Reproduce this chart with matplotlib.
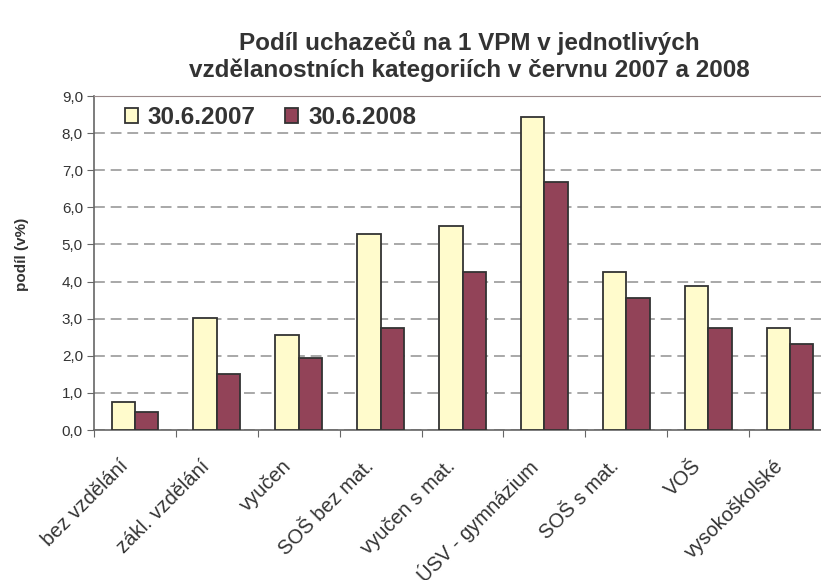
import numpy as np
import matplotlib
matplotlib.use("Agg")
import matplotlib.pyplot as plt
import matplotlib.transforms as mtransforms

plt.rcParams['font.family'] = ['Liberation Sans', 'DejaVu Sans']

# data
categories = ['bez vzdělání', 'zákl. vzdělání', 'vyučen', 'SOŠ bez mat.', 'vyučen s mat.',
              'ÚSV - gymnázium', 'SOŠ s mat.', 'VOŠ', 'vysokoškolské']
podil_2007 = [0.76, 3.03, 2.55, 5.29, 5.51, 8.43, 4.27, 3.89, 2.76]
podil_2008 = [0.49, 1.51, 1.95, 2.76, 4.27, 6.69, 3.57, 2.76, 2.33]
series_names = ['30.6.2007', '30.6.2008']
yticks = [0, 1, 2, 3, 4, 5, 6, 7, 8, 9]

txt = '#333333'
fig = plt.figure(figsize=(8.21, 5.8), dpi=100)
ax = fig.add_axes([94 / 821, 150 / 580, 737 / 821, 334 / 580])

x = np.arange(len(categories))
w = 0.285
ax.bar(x - w / 2, podil_2007, w, color='#FFFBCC', edgecolor='#333333', linewidth=1.3,
       label=series_names[0], zorder=3)
ax.bar(x + w / 2, podil_2008, w, color='#924358', edgecolor='#333333', linewidth=1.3,
       label=series_names[1], zorder=3)

ax.set_xlim(-0.5, len(categories) - 0.5)
ax.set_ylim(0, 9)
ax.set_yticks(yticks)
ax.set_yticklabels(['%d,0' % v for v in yticks], fontsize=11, color=txt)
ax.yaxis.grid(True, linestyle=(0, (6.5, 3.5)), color='#999999', linewidth=1.2, zorder=0)

ax.set_xticks(np.arange(len(categories) + 1) - 0.5, minor=False)
ax.set_xticklabels([])
ax.set_xticks(x, minor=True)
ax.set_xticklabels(categories, minor=True, rotation=45, ha='right', va='center',
                   rotation_mode='anchor', fontsize=14.5, color=txt)
ax.tick_params(axis='x', which='minor', length=0, pad=24)
ax.tick_params(axis='x', which='major', length=5, direction='out', color='#666666')
ax.tick_params(axis='y', length=5, direction='out', color='#666666', pad=3)
shift = mtransforms.ScaledTranslation(-10 / 100, 0, fig.dpi_scale_trans)
for lab in ax.get_xticklabels(minor=True):
    lab.set_transform(lab.get_transform() + shift)

for s in ['left', 'bottom']:
    ax.spines[s].set_color('#666666')
    ax.spines[s].set_linewidth(1.2)
ax.spines['top'].set_color('#9a8a8a')
ax.spines['right'].set_visible(False)

ax.set_ylabel('podíl (v%)', fontsize=11, fontweight='bold', color=txt)
ax.yaxis.set_label_coords(-0.088, 0.525)

leg = ax.legend(loc='upper left', bbox_to_anchor=(0.012, 1.035), ncol=2, frameon=False,
                prop={'size': 17.5, 'weight': 'bold'}, handlelength=0.55, handleheight=0.55,
                handletextpad=0.4, columnspacing=1.2, labelcolor=txt)

fig.text(0.572, 0.903, 'Podíl uchazečů na 1 VPM v jednotlivých\nvzdělanostních kategoriích v červnu 2007 a 2008',
         ha='center', va='center', fontsize=17.5, fontweight='bold', color=txt, linespacing=1.2)

fig.savefig('out.png', dpi=100)
